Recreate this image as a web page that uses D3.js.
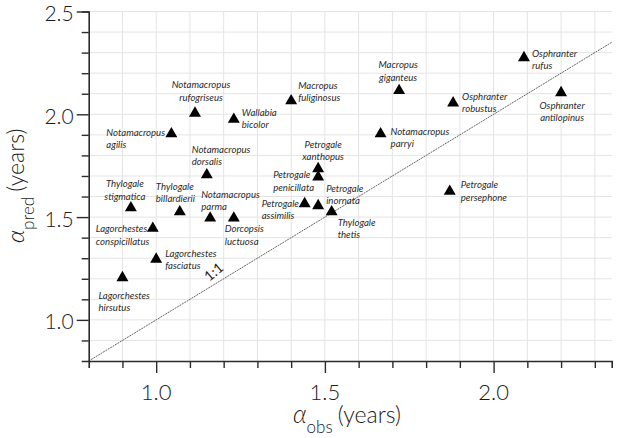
<!DOCTYPE html>
<html>
<head>
<meta charset="utf-8">
<script src="https://cdn.jsdelivr.net/npm/d3@7"></script>
<style>
  body { margin: 0; background: #fff; }
  svg { display: block; }
  .sp { font-family: Lato, "Open Sans", sans-serif; font-style: italic; font-size: 9.6px; fill: #2a2a2a; }
  .tick-lab { font-family: Lato, "Open Sans", sans-serif; font-weight: 300; font-size: 22px; fill: #1a1a1a; }
  .title { font-family: Lato, "Open Sans", sans-serif; font-weight: 300; font-size: 23px; fill: #1a1a1a; }
</style>
</head>
<body>
<div id="chart"></div>
<script>
// species names, observed and predicted alpha (years)
const species = [
  "Osphranter rufus", "Osphranter antilopinus", "Macropus giganteus", "Osphranter robustus",
  "Macropus fuliginosus", "Notamacropus rufogriseus", "Wallabia bicolor", "Notamacropus agilis",
  "Notamacropus parryi", "Notamacropus dorsalis", "Petrogale xanthopus", "Petrogale penicillata",
  "Petrogale persephone", "Thylogale stigmatica", "Thylogale billardierii", "Petrogale assimilis",
  "Petrogale inornata", "Thylogale thetis", "Notamacropus parma", "Dorcopsis luctuosa",
  "Lagorchestes conspicillatus", "Lagorchestes fasciatus", "Lagorchestes hirsutus"
];
const alphaObs = [
  2.09, 2.20, 1.72, 1.88,
  1.40, 1.115, 1.23, 1.045,
  1.665, 1.15, 1.48, 1.48,
  1.87, 0.925, 1.07, 1.44,
  1.48, 1.52, 1.16, 1.23,
  0.99, 1.00, 0.90
];
const alphaPred = [
  2.28, 2.11, 2.12, 2.06,
  2.07, 2.01, 1.98, 1.91,
  1.91, 1.71, 1.74, 1.70,
  1.63, 1.55, 1.53, 1.57,
  1.56, 1.53, 1.50, 1.50,
  1.45, 1.30, 1.21
];
const xTickLabels = [1.0, 1.5, 2.0];
const yTickLabels = [1.0, 1.5, 2.0, 2.5];

// label placement: [anchor, dx, dy of first baseline]
const labelPos = [
  ["start", 8, 0], ["middle", 1, 17], ["middle", -1, -21.5], ["start", 9, -2],
  ["start", 7, -11], ["middle", 6, -24], ["start", 8, -2.5], ["start", -65, 3],
  ["start", 10, 2], ["start", -15, -21], ["middle", 5, -20], ["start", -45, 2.5],
  ["start", 11, -2], ["middle", -6, -19.5], ["start", -24, -21], ["start", -43, 4],
  ["start", 8, -13], ["start", 6, 15], ["start", -9, -19.5], ["start", -9, 15],
  ["start", -57, 5], ["start", 9, -1.5], ["start", -24, 22]
];

const W = 617, H = 438;
const margin = { top: 11.5, right: 5.3, bottom: 77, left: 88.7 };

const data = species.map((s, i) => ({ name: s, obs: alphaObs[i], pred: alphaPred[i], pos: labelPos[i] }));

const x = d3.scaleLinear().domain([0.8, 2.35]).range([margin.left, W - margin.right]);
const y = d3.scaleLinear().domain([0.8, 2.5]).range([H - margin.bottom, margin.top]);

const svg = d3.select("#chart").append("svg").attr("width", W).attr("height", H);

// grid
const minorX = d3.range(9, 24).map(v => v / 10);
const minorY = d3.range(9, 26).map(v => v / 10);
svg.append("g").selectAll("line").data(minorX).join("line")
  .attr("x1", d => x(d)).attr("x2", d => x(d))
  .attr("y1", y(0.8)).attr("y2", y(2.5))
  .attr("stroke", "#e4e4e4").attr("stroke-width", 1);
svg.append("g").selectAll("line").data(minorY).join("line")
  .attr("x1", x(0.8)).attr("x2", x(2.35))
  .attr("y1", d => y(d)).attr("y2", d => y(d))
  .attr("stroke", "#e4e4e4").attr("stroke-width", 1);

// 1:1 line
svg.append("line")
  .attr("x1", x(0.8)).attr("y1", y(0.8))
  .attr("x2", x(2.35)).attr("y2", y(2.35))
  .attr("stroke", "#555").attr("stroke-width", 0.9)
  .attr("stroke-dasharray", "2,0.8");

svg.append("text")
  .attr("class", "title")
  .attr("transform", `translate(${x(1.18)},${y(1.215)}) rotate(-40)`)
  .attr("text-anchor", "middle")
  .style("font-size", "14px").style("font-weight", 400)
  .text("1:1");

// axes
const xAxis = d3.axisBottom(x).tickValues(minorX).tickSize(7).tickFormat("");
const xg = svg.append("g").attr("transform", `translate(0,${y(0.8)})`).call(xAxis);
const yAxis = d3.axisLeft(y).tickValues(minorY).tickSize(7).tickFormat("");
const yg = svg.append("g").attr("transform", `translate(${x(0.8)},0)`).call(yAxis);
[xg, yg].forEach(g => {
  g.select(".domain").attr("stroke", "#2b2b2b").attr("stroke-width", 1.6);
  g.selectAll(".tick line").attr("stroke", "#2b2b2b").attr("stroke-width", 1.4);
});
xg.selectAll(".tick line").filter(d => xTickLabels.some(v => Math.abs(v - d) < 1e-6)).attr("y2", 12);
yg.selectAll(".tick line").filter(d => yTickLabels.some(v => Math.abs(v - d) < 1e-6)).attr("x2", -12);

svg.append("g").selectAll("text").data(xTickLabels).join("text")
  .attr("class", "tick-lab")
  .attr("x", d => x(d)).attr("y", y(0.8) + 39)
  .attr("text-anchor", "middle")
  .text(d => d.toFixed(1));
svg.append("g").selectAll("text").data(yTickLabels).join("text")
  .attr("class", "tick-lab")
  .style("font-size", "21px")
  .attr("x", x(0.8) - 15).attr("y", d => y(d))
  .attr("dy", "0.45em")
  .attr("text-anchor", "end")
  .text(d => d.toFixed(1));

// axis titles
const xt = svg.append("text").attr("class", "title").attr("x", 293).attr("y", 422.7);
xt.append("tspan").style("font-style", "italic").style("font-size", "25px").text("α");
xt.append("tspan").attr("dy", 10).style("font-size", "17px").text("obs");
xt.append("tspan").attr("dy", -10).attr("dx", 5).text("(years)");

const yt = svg.append("text").attr("class", "title").attr("transform", "translate(24,243) rotate(-90)");
yt.append("tspan").style("font-style", "italic").style("font-size", "24px").text("α");
yt.append("tspan").attr("dy", 10).style("font-size", "17px").text("pred");
yt.append("tspan").attr("dy", -10).attr("dx", 5).text("(years)");

// points
svg.append("g").selectAll("path").data(data).join("path")
  .attr("d", d3.symbol(d3.symbolTriangle, 62))
  .attr("transform", d => `translate(${x(d.obs)},${y(d.pred) + 1})`)
  .attr("fill", "#000");

// species labels
const lab = svg.append("g").selectAll("text").data(data).join("text")
  .attr("class", "sp")
  .attr("text-anchor", d => d.pos[0])
  .attr("x", d => x(d.obs) + d.pos[1])
  .attr("y", d => y(d.pred) + d.pos[2]);
lab.each(function (d) {
  const parts = d.name.split(" ");
  const t = d3.select(this);
  t.append("tspan").attr("x", x(d.obs) + d.pos[1]).text(parts[0]);
  t.append("tspan").attr("x", x(d.obs) + d.pos[1]).attr("dy", 12.5).text(parts[1]);
});
</script>
</body>
</html>
